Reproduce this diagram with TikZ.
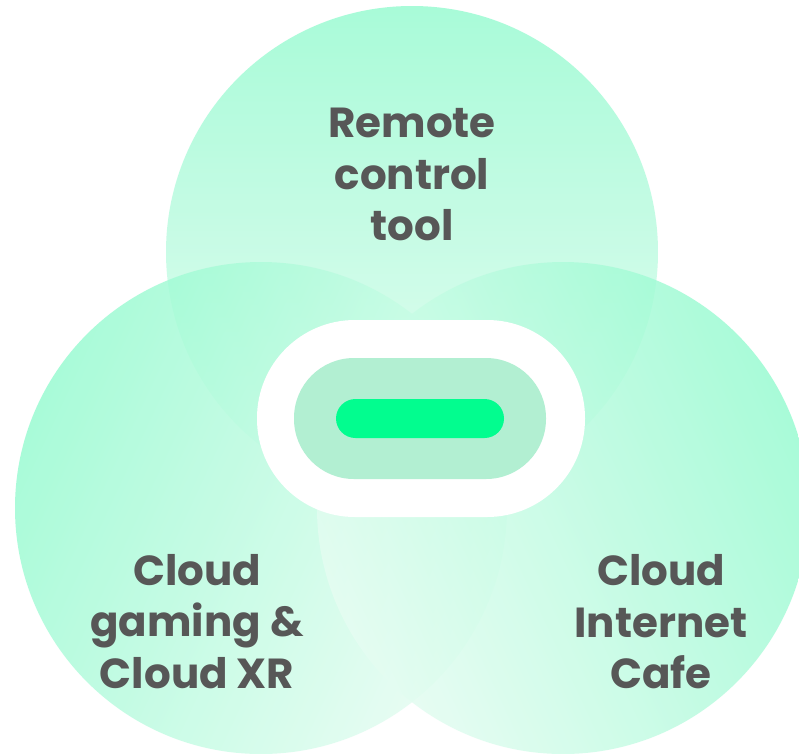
\documentclass[tikz,border=0pt]{standalone}
\usepackage{fontspec}
\setmainfont{Poppins}
\definecolor{mintdark}{HTML}{96FBD0}
\definecolor{mintlight}{HTML}{E6FCF2}
\definecolor{innerfill}{HTML}{8EE8BE}
\definecolor{barfill}{HTML}{02FD8F}
\definecolor{labelgrey}{HTML}{575757}
\tikzset{
  bubble/.style={top color=mintdark, bottom color=mintlight, opacity=0.82},
  lbl/.style={text=labelgrey, align=center, inner sep=0pt,
    font=\fontsize{42}{51.5}\selectfont\bfseries},
}
\begin{document}
\begin{tikzpicture}[x=1pt,y=-1pt]
  \useasboundingbox (0,0) rectangle (799,753);
  \fill[white] (0,0) rectangle (799,753);
  \clip (0,0) rectangle (799,753);
  % three overlapping circles, each darker on its outer side
  \shade[bubble, shading angle=0]   (412,252) circle[radius=246pt];
  \shade[bubble, shading angle=65]  (261,508) circle[radius=246pt];
  \shade[bubble, shading angle=-65] (563,508) circle[radius=246pt];
  % central capsule
  \fill[white, rounded corners=98pt] (257,320) rectangle (585,517);
  \fill[innerfill, opacity=0.68, rounded corners=60pt] (294,358) rectangle (546,479);
  \fill[barfill, rounded corners=19.5pt] (336,399) rectangle (504,438);
  % labels
  \node[lbl] (remote) at (412,174.5) {Remote\\control\\tool};
  \node[lbl] (gaming) at (197,621.5) {Cloud\\gaming \&\\Cloud XR};
  \node[lbl] (cafe)   at (661,622)   {Cloud\\Internet\\Cafe};
\end{tikzpicture}
\end{document}
